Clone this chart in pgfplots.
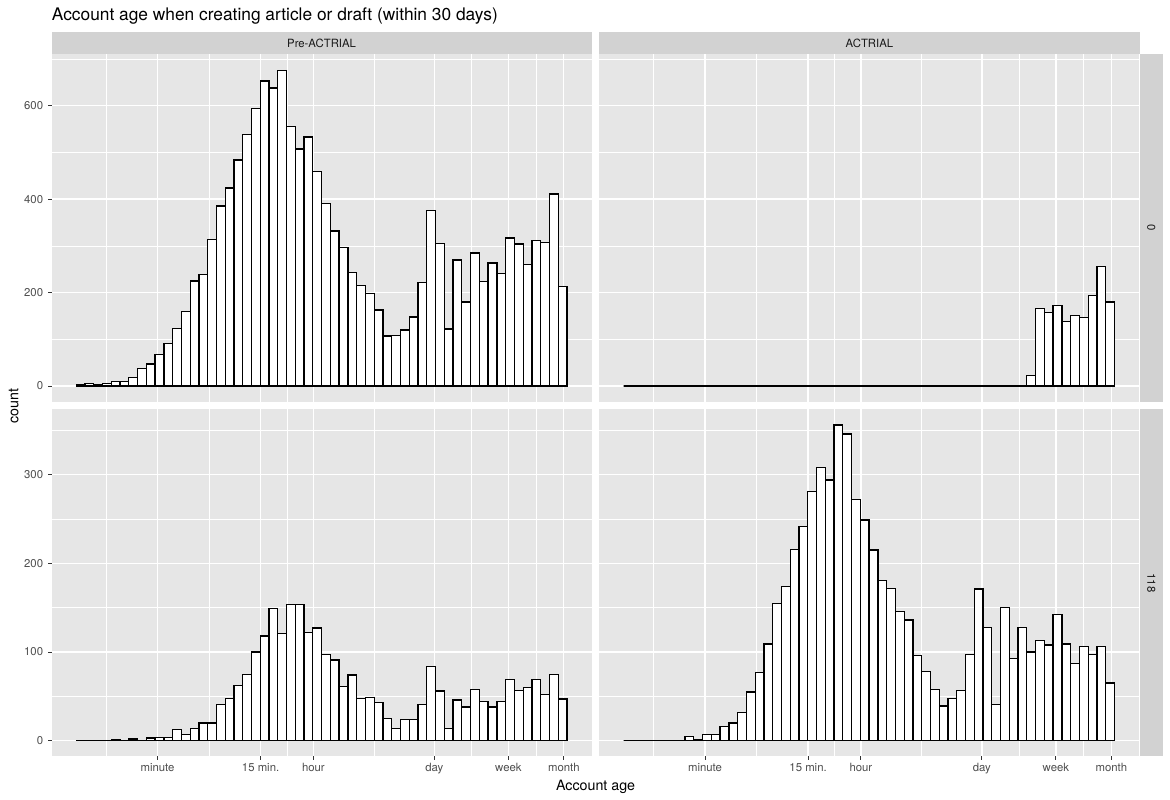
\documentclass[border=0pt]{standalone}
\usepackage{fontspec}
\setmainfont{TeX Gyre Heros}
\usepackage{pgfplots}
\usepackage{pgfplotstable}
\pgfplotsset{compat=1.18}
\definecolor{ggpanel}{HTML}{E6E6E6}
\definecolor{ggstrip}{HTML}{D2D2D2}
\definecolor{ggtick}{HTML}{4D4D4D}
\definecolor{ggtickline}{HTML}{333333}
\definecolor{ggtext}{HTML}{1A1A1A}

% bin left edges (log10 seconds), counts
\pgfplotstableread{
x y
0.85 2
0.95 5
1.05 2
1.15 5
1.25 9
1.35 9
1.45 18
1.55 37
1.65 47
1.75 68
1.85 91
1.95 123
2.05 159
2.15 225
2.25 238
2.35 314
2.45 385
2.55 424
2.65 484
2.75 538
2.85 594
2.95 653
3.05 638
3.15 676
3.25 556
3.35 507
3.45 533
3.55 459
3.65 390
3.75 332
3.85 296
3.95 243
4.05 215
4.15 198
4.25 163
4.35 107
4.45 108
4.55 120
4.65 148
4.75 221
4.85 376
4.95 305
5.05 122
5.15 270
5.25 180
5.35 285
5.45 223
5.55 263
5.65 241
5.75 317
5.85 304
5.95 260
6.05 311
6.15 307
6.25 411
6.35 213
6.45 0
}\tabTL

\pgfplotstableread{
x y
0.85 0
0.95 0
1.05 0
1.15 0
1.25 0
1.35 0
1.45 0
1.55 0
1.65 0
1.75 0
1.85 0
1.95 0
2.05 0
2.15 0
2.25 0
2.35 0
2.45 0
2.55 0
2.65 0
2.75 0
2.85 0
2.95 0
3.05 0
3.15 0
3.25 0
3.35 0
3.45 0
3.55 0
3.65 0
3.75 0
3.85 0
3.95 0
4.05 0
4.15 0
4.25 0
4.35 0
4.45 0
4.55 0
4.65 1
4.75 0
4.85 0
4.95 0
5.05 0
5.15 0
5.25 0
5.35 0
5.45 22
5.55 166
5.65 158
5.75 172
5.85 138
5.95 151
6.05 146
6.15 194
6.25 256
6.35 180
6.45 0
}\tabTR

\pgfplotstableread{
x y
0.85 0
0.95 0
1.05 0
1.15 0
1.25 1
1.35 0
1.45 2
1.55 0
1.65 3
1.75 4
1.85 4
1.95 13
2.05 7
2.15 14
2.25 20
2.35 20
2.45 41
2.55 48
2.65 62
2.75 75
2.85 100
2.95 118
3.05 149
3.15 121
3.25 154
3.35 154
3.45 122
3.55 127
3.65 97
3.75 91
3.85 61
3.95 74
4.05 48
4.15 49
4.25 43
4.35 25
4.45 14
4.55 24
4.65 24
4.75 41
4.85 84
4.95 56
5.05 14
5.15 46
5.25 38
5.35 58
5.45 44
5.55 38
5.65 44
5.75 69
5.85 57
5.95 60
6.05 69
6.15 52
6.25 75
6.35 47
6.45 0
}\tabBL

\pgfplotstableread{
x y
0.85 0
0.95 0
1.05 0
1.15 0
1.25 0
1.35 0
1.45 0
1.55 5
1.65 1
1.75 7
1.85 7
1.95 16
2.05 20
2.15 32
2.25 55
2.35 77
2.45 109
2.55 155
2.65 174
2.75 216
2.85 242
2.95 281
3.05 308
3.15 294
3.25 356
3.35 346
3.45 272
3.55 249
3.65 215
3.75 181
3.85 172
3.95 146
4.05 136
4.15 96
4.25 78
4.35 58
4.45 39
4.55 48
4.65 57
4.75 97
4.85 171
4.95 128
5.05 41
5.15 150
5.25 93
5.35 128
5.45 100
5.55 113
5.65 108
5.75 142
5.85 109
5.95 87
6.05 106
6.15 97
6.25 106
6.35 65
6.45 0
}\tabBR

\pgfplotsset{
  gg/.style={
    scale only axis, width=539.8bp,
    xmin=0.57, xmax=6.73,
    axis background/.style={fill=ggpanel},
    axis line style={draw=none},
    grid=both,
    major grid style={white, line width=1.3bp},
    minor grid style={white, line width=0.65bp},
    xtick={1.778,2.954,3.556,4.937,5.782,6.414},
    minor xtick={1.190,2.366,3.255,4.246,5.360,6.098},
    xticklabels={minute,15 min.,hour,day,week,month},
    tick align=outside,
    major tick length=3.5bp,
    minor tick length=0pt,
    tick pos=left,
    tick style={ggtickline, line width=1bp},
    tick label style={font=\fontsize{11.4}{13}\selectfont, text=ggtick, inner sep=0pt},
    xticklabel style={anchor=north, text height=8.2bp, text depth=2.4bp, yshift=-3.4bp},
    yticklabel style={anchor=east, xshift=-4.9bp},
    /pgf/number format/assume math mode=true,
  },
  ggtop/.style={gg, height=347.4bp, ymin=-33.8, ymax=709.8,
    ytick={0,200,400,600}, minor ytick={100,300,500,700},
    xticklabels={}, xtick style={draw=none}},
  ggbot/.style={gg, height=347.2bp, ymin=-17.8, ymax=373.8,
    ytick={0,100,200,300}, minor ytick={50,150,250,350}},
  ggright/.style={yticklabels={}, ytick style={draw=none}},
  bars/.style={ybar interval, fill=white, draw=black, line width=1.3bp},
}

\begin{document}
\begin{tikzpicture}
\useasboundingbox (0bp,0bp) rectangle (1170bp,800bp);

\begin{axis}[ggtop, at={(51.7bp,398.2bp)}, anchor=south west]
\addplot[bars] table[x=x, y=y] {\tabTL};
\end{axis}

\begin{axis}[ggtop, ggright, at={(599.2bp,398.2bp)}, anchor=south west]
\addplot[bars] table[x=x, y=y] {\tabTR};
\end{axis}

\begin{axis}[ggbot, at={(51.7bp,43.5bp)}, anchor=south west]
\addplot[bars] table[x=x, y=y] {\tabBL};
\end{axis}

\begin{axis}[ggbot, ggright, at={(599.2bp,43.5bp)}, anchor=south west]
\addplot[bars] table[x=x, y=y] {\tabBR};
\end{axis}

% strips
\fill[ggstrip] (51.7bp,745.6bp) rectangle (591.5bp,768.3bp);
\fill[ggstrip] (599.2bp,745.6bp) rectangle (1139.6bp,768.3bp);
\fill[ggstrip] (1139.6bp,398.2bp) rectangle (1162.9bp,745.6bp);
\fill[ggstrip] (1139.6bp,43.5bp) rectangle (1162.9bp,390.7bp);
\node[text=ggtext, font=\fontsize{11.4}{13}\selectfont, inner sep=0pt] at (321.6bp,757bp) {Pre-ACTRIAL};
\node[text=ggtext, font=\fontsize{11.4}{13}\selectfont, inner sep=0pt] at (869.4bp,757bp) {ACTRIAL};
\node[text=ggtext, font=\fontsize{11.4}{13}\selectfont, inner sep=0pt, rotate=-90] at (1151.3bp,571.9bp) {0};
\node[text=ggtext, font=\fontsize{11.4}{13}\selectfont, inner sep=0pt, rotate=-90] at (1151.3bp,217.1bp) {118};

% titles
\node[anchor=base west, font=\fontsize{17.4}{21}\selectfont, inner sep=0pt] at (51.7bp,779.3bp) {Account age when creating article or draft (within 30 days)};
\node[anchor=base, font=\fontsize{14.3}{17}\selectfont, inner sep=0pt] at (595.6bp,10bp) {Account age};
\node[anchor=base, rotate=90, font=\fontsize{14.3}{17}\selectfont, inner sep=0pt] at (18.3bp,394bp) {count};
\end{tikzpicture}
\end{document}
